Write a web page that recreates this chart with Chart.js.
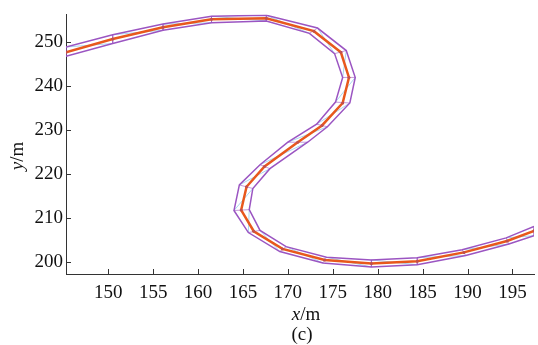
<!DOCTYPE html>
<html>
<head>
<meta charset="utf-8">
<script src="https://cdn.jsdelivr.net/npm/chart.js@4"></script>
<style>
  html, body { margin: 0; padding: 0; background: #fff; }
  #wrap { width: 538px; height: 345px; }
</style>
</head>
<body>
<div id="wrap"><canvas id="myChart" width="538" height="345"></canvas></div>
<script>
// tick labels
let xTicks = [150, 155, 160, 165, 170, 175, 180, 185, 190, 195];
let yTicks = [200, 210, 220, 230, 240, 250];

// centre line of the road (orange)
let centerX = [145.3, 150.5, 156.1, 161.5, 167.6, 172.9, 175.9, 176.8, 176.1, 173.8, 171.1, 167.4, 165.4, 164.8, 166.2, 169.4, 174.1, 179.3, 184.4, 189.6, 194.4, 197.4];
let centerY = [247.6, 250.6, 253.3, 255.1, 255.3, 252.4, 247.6, 241.9, 236.1, 231.0, 227.2, 221.7, 217.1, 211.8, 207.0, 203.0, 200.5, 199.7, 200.2, 202.2, 204.8, 207.1];

// left-hand boundary (purple)
let leftX = [145.3, 150.5, 156.1, 161.5, 167.6, 173.3, 176.5, 177.5, 176.9, 174.4, 172.2, 168.0, 166.1, 165.7, 166.9, 169.8, 174.3, 179.3, 184.4, 189.4, 194.3, 197.4];
let leftY = [248.8, 251.6, 254.0, 255.8, 256.0, 253.1, 248.0, 241.9, 236.1, 230.7, 227.2, 221.2, 216.7, 211.9, 207.2, 203.5, 201.1, 200.5, 201.0, 202.8, 205.5, 208.1];

// right-hand boundary (purple)
let rightX = [145.3, 150.5, 156.1, 161.5, 167.6, 172.4, 175.2, 176.1, 175.3, 173.2, 170.0, 166.9, 164.6, 164.0, 165.6, 169.1, 173.9, 179.3, 184.4, 189.8, 194.6, 197.4];
let rightY = [246.7, 249.6, 252.6, 254.3, 254.7, 251.9, 247.3, 241.9, 236.3, 231.3, 227.2, 222.1, 217.5, 211.7, 206.7, 202.4, 199.8, 198.9, 199.4, 201.5, 204.1, 206.0];

let orange = '#e8581c';
let purple = '#9b55c2';
let lightBlue = '#a9d6f0';
let serif = '"Liberation Serif", "DejaVu Serif", serif';

let toPts = (xs, ys) => xs.map((x, i) => ({x: x, y: ys[i]}));
let gap = () => ({x: NaN, y: NaN});

// cross bars and diagonals between the two boundaries
let bars = [];
let diags = [];
for (let i = 0; i < leftX.length; i++) {
    bars.push({x: leftX[i], y: leftY[i]}, {x: rightX[i], y: rightY[i]}, gap());
    if (i < leftX.length - 1) {
        diags.push({x: leftX[i], y: leftY[i]}, {x: rightX[i + 1], y: rightY[i + 1]}, gap());
    }
}

let axisDecor = {
    id: 'axisDecor',
    afterDraw(chart) {
        let ctx = chart.ctx;
        let a = chart.chartArea;
        let xs = chart.scales.x;
        let ys = chart.scales.y;
        ctx.save();
        ctx.strokeStyle = '#333';
        ctx.lineWidth = 1;
        ctx.beginPath();
        xTicks.forEach(v => {
            let p = Math.round(xs.getPixelForValue(v)) + 0.5;
            ctx.moveTo(p, a.bottom);
            ctx.lineTo(p, a.bottom - 5);
        });
        yTicks.forEach(v => {
            let p = Math.round(ys.getPixelForValue(v)) + 0.5;
            ctx.moveTo(a.left, p);
            ctx.lineTo(a.left + 5, p);
        });
        ctx.stroke();

        // x title: italic x + "/m"
        ctx.fillStyle = '#111';
        ctx.textBaseline = 'alphabetic';
        let fi = 'italic 19px ' + serif;
        let fn = '19px ' + serif;
        ctx.font = fi;
        let w1 = ctx.measureText('x').width;
        ctx.font = fn;
        let w2 = ctx.measureText('/m').width;
        let cx = (a.left + a.right) / 2 + 6;
        let sx = cx - (w1 + w2) / 2;
        ctx.font = fi;
        ctx.fillText('x', sx, 320);
        ctx.font = fn;
        ctx.fillText('/m', sx + w1, 320);
        ctx.textAlign = 'center';
        ctx.fillText('(c)', (a.left + a.right) / 2 + 2, 340);

        // y title, rotated
        ctx.translate(23, 156);
        ctx.rotate(-Math.PI / 2);
        ctx.textAlign = 'left';
        ctx.font = fi;
        let w3 = ctx.measureText('y').width;
        ctx.font = fn;
        let w4 = ctx.measureText('/m').width;
        let sy = -(w3 + w4) / 2;
        ctx.font = fi;
        ctx.fillText('y', sy, 0);
        ctx.font = fn;
        ctx.fillText('/m', sy + w3, 0);
        ctx.restore();
    }
};

let myChart = document.getElementById('myChart').getContext('2d');

let chart = new Chart(myChart, {
    type: 'scatter',
    data: {
        datasets: [
            {
                data: toPts(centerX, centerY),
                showLine: true,
                borderColor: orange,
                borderWidth: 2.5,
                pointRadius: 1.5,
                pointBackgroundColor: '#c0504d',
                pointBorderWidth: 0,
                tension: 0
            },
            {
                data: toPts(leftX, leftY),
                showLine: true,
                borderColor: purple,
                borderWidth: 1.5,
                pointRadius: 0
            },
            {
                data: toPts(rightX, rightY),
                showLine: true,
                borderColor: purple,
                borderWidth: 1.5,
                pointRadius: 0
            },
            {
                data: bars,
                showLine: true,
                spanGaps: false,
                borderColor: 'rgba(155,85,194,0.6)',
                borderWidth: 1,
                pointRadius: 0
            },
            {
                data: diags,
                showLine: true,
                spanGaps: false,
                borderColor: lightBlue,
                borderWidth: 1,
                pointRadius: 0
            }
        ]
    },
    plugins: [axisDecor],
    options: {
        responsive: false,
        animation: false,
        layout: { padding: { top: 10, right: 3, left: 0, bottom: 0 } },
        plugins: {
            legend: { display: false },
            tooltip: { enabled: false }
        },
        scales: {
            x: {
                type: 'linear',
                min: 145.3,
                max: 197.4,
                afterBuildTicks: s => { s.ticks = xTicks.map(v => ({value: v})); },
                afterFit: s => { s.height = 71; },
                grid: { display: false, drawTicks: false },
                border: { display: true, color: '#333', width: 1 },
                ticks: {
                    color: '#111',
                    padding: 8,
                    maxRotation: 0,
                    font: { family: serif, size: 19 }
                }
            },
            y: {
                type: 'linear',
                min: 197.3,
                max: 256.2,
                afterBuildTicks: s => { s.ticks = yTicks.map(v => ({value: v})); },
                afterFit: s => { s.width = 66; },
                grid: { display: false, drawTicks: false },
                border: { display: true, color: '#333', width: 1 },
                ticks: {
                    color: '#111',
                    padding: 3,
                    font: { family: serif, size: 19 }
                }
            }
        }
    }
});
</script>
</body>
</html>
